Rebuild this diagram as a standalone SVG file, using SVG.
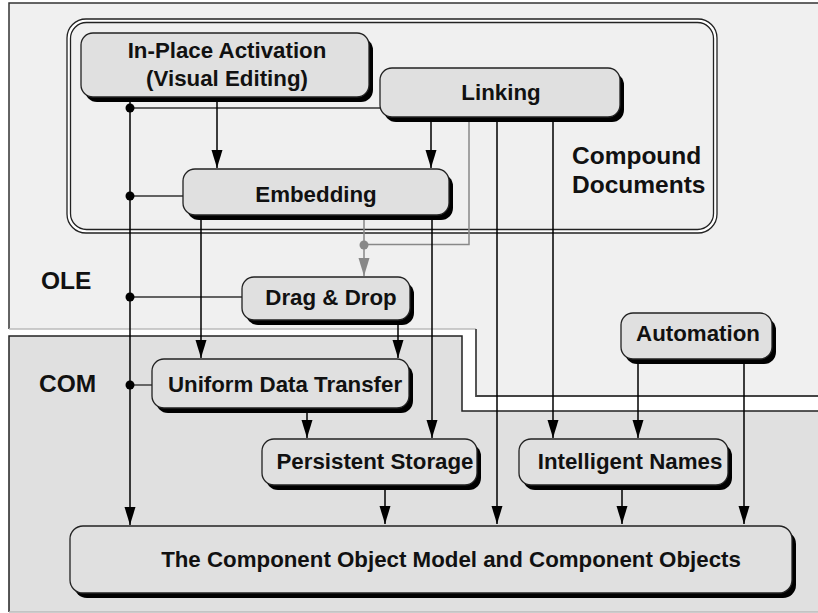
<svg xmlns="http://www.w3.org/2000/svg" width="818" height="613" viewBox="0 0 818 613">
  <style>
    .lbl { font-family: "Liberation Sans", Arial, sans-serif; font-weight: bold; fill: #111; }
    .nt { font-size: 22.3px; text-anchor: middle; }
    .zone { font-size: 24.5px; }
    .box { fill: #e0e0e0; stroke: #222; stroke-width: 1.3; }
    .shadow { fill: #000; }
    .wire { fill: none; stroke: #000; stroke-width: 1.5; }
    .tap { fill: none; stroke: #333; stroke-width: 1.4; }
    .grey { fill: none; stroke: #888; stroke-width: 1.5; }
  </style>
  <defs>
    <marker id="arr" markerWidth="18" markerHeight="12" refX="18" refY="6" orient="auto" markerUnits="userSpaceOnUse">
      <path d="M0,0.5 L18,6 L0,11.5 Z" fill="#000"/>
    </marker>
    <marker id="arrGrey" markerWidth="18" markerHeight="12" refX="18" refY="6" orient="auto" markerUnits="userSpaceOnUse">
      <path d="M0,0.5 L18,6 L0,11.5 Z" fill="#888"/>
    </marker>
  </defs>

  <rect width="818" height="613" fill="#fff"/>

  <!-- OLE layer -->
  <g id="ole-layer">
    <polygon points="9,3 818,3 818,396 476,396 476,329 9,329" fill="#f0f0f0"/>
    <path d="M9,329 V3 H818" fill="none" stroke="#333" stroke-width="1.5"/>
    <path d="M9,329 H476" fill="none" stroke="#bbb" stroke-width="1.5"/>
    <path d="M476,329 V396 H818" fill="none" stroke="#444" stroke-width="1.8"/>
    <text class="lbl zone" x="41" y="289">OLE</text>
  </g>

  <!-- COM layer -->
  <g id="com-layer">
    <polygon points="9,336 462,336 462,411 818,411 818,612 9,612" fill="#e0e0e0"/>
    <path d="M9,612 V336 H462 V411 H818" fill="none" stroke="#222" stroke-width="1.5"/>
    <path d="M9,612 H818" fill="none" stroke="#bbb" stroke-width="1.5"/>
    <text class="lbl zone" x="39" y="392">COM</text>
  </g>

  <!-- Compound Documents frame (double rule) -->
  <g id="compound-documents">
    <rect x="67" y="19" width="650" height="214" rx="19" fill="#fff" stroke="#222" stroke-width="1.3"/>
    <rect x="70.5" y="22.5" width="643" height="207" rx="16" fill="#f0f0f0" stroke="#222" stroke-width="1.3"/>
    <text class="lbl zone" x="572" y="164">Compound</text>
    <text class="lbl zone" x="572" y="193">Documents</text>
  </g>

  <!-- connectors -->
  <g id="connectors">
    <path class="wire" d="M130,95 V525" marker-end="url(#arr)"/>
    <path class="tap" d="M130,108 H380"/>
    <path class="tap" d="M130,196 H183"/>
    <path class="tap" d="M130,297 H242"/>
    <path class="tap" d="M130,385 H152"/>
    <circle cx="130" cy="108" r="4.5" fill="#000"/>
    <circle cx="130" cy="196" r="4.5" fill="#000"/>
    <circle cx="130" cy="297" r="4.5" fill="#000"/>
    <circle cx="130" cy="385" r="4.5" fill="#000"/>

    <path class="wire" d="M217,97 V168" marker-end="url(#arr)"/>
    <path class="wire" d="M431,117 V168" marker-end="url(#arr)"/>
    <path class="grey" d="M469,117 V244.5 H364"/>
    <path class="grey" d="M364,215 V276" marker-end="url(#arrGrey)"/>
    <circle cx="364" cy="245" r="4.5" fill="#888"/>
    <path class="wire" d="M497,117 V524" marker-end="url(#arr)"/>
    <path class="wire" d="M553,117 V438" marker-end="url(#arr)"/>

    <path class="wire" d="M201,215 V358" marker-end="url(#arr)"/>
    <path class="wire" d="M432,215 V438" marker-end="url(#arr)"/>
    <path class="wire" d="M398,320 V358" marker-end="url(#arr)"/>
    <path class="wire" d="M307,408 V438" marker-end="url(#arr)"/>
    <path class="wire" d="M385,485 V524" marker-end="url(#arr)"/>
    <path class="wire" d="M638,359 V438" marker-end="url(#arr)"/>
    <path class="wire" d="M744,359 V524" marker-end="url(#arr)"/>
    <path class="wire" d="M622,485 V524" marker-end="url(#arr)"/>
  </g>

  <!-- nodes -->
  <g id="in-place-activation">
    <rect class="shadow" x="85" y="38" width="288" height="64" rx="12"/>
    <rect class="box" x="81" y="33" width="288" height="64" rx="12"/>
    <text class="lbl nt" x="227" y="58">In-Place Activation</text>
    <text class="lbl nt" x="227" y="86">(Visual Editing)</text>
  </g>
  <g id="linking">
    <rect class="shadow" x="384" y="73" width="240" height="49" rx="12"/>
    <rect class="box" x="380" y="68" width="240" height="49" rx="12"/>
    <text class="lbl nt" x="501" y="100">Linking</text>
  </g>
  <g id="embedding">
    <rect class="shadow" x="187" y="174" width="266" height="46" rx="12"/>
    <rect class="box" x="183" y="169" width="266" height="46" rx="12"/>
    <text class="lbl nt" x="316" y="202">Embedding</text>
  </g>
  <g id="drag-drop">
    <rect class="shadow" x="246" y="282" width="168" height="43" rx="12"/>
    <rect class="box" x="242" y="277" width="168" height="43" rx="12"/>
    <text class="lbl nt" x="331" y="305">Drag &amp; Drop</text>
  </g>
  <g id="uniform-data-transfer">
    <rect class="shadow" x="156" y="364" width="257" height="49" rx="12"/>
    <rect class="box" x="152" y="359" width="257" height="49" rx="12"/>
    <text class="lbl nt" x="285" y="392">Uniform Data Transfer</text>
  </g>
  <g id="persistent-storage">
    <rect class="shadow" x="266" y="444" width="215" height="46" rx="12"/>
    <rect class="box" x="262" y="439" width="215" height="46" rx="12"/>
    <text class="lbl nt" x="375" y="469">Persistent Storage</text>
  </g>
  <g id="automation">
    <rect class="shadow" x="625" y="318" width="151" height="46" rx="12"/>
    <rect class="box" x="621" y="313" width="151" height="46" rx="12"/>
    <text class="lbl nt" x="698" y="341">Automation</text>
  </g>
  <g id="intelligent-names">
    <rect class="shadow" x="523" y="444" width="209" height="46" rx="12"/>
    <rect class="box" x="519" y="439" width="209" height="46" rx="12"/>
    <text class="lbl nt" x="630" y="469">Intelligent Names</text>
  </g>
  <g id="component-object-model">
    <rect class="shadow" x="74" y="531" width="722" height="67" rx="13"/>
    <rect class="box" x="70" y="526" width="722" height="67" rx="13"/>
    <text class="lbl nt" x="451" y="567">The Component Object Model and Component Objects</text>
  </g>
</svg>
